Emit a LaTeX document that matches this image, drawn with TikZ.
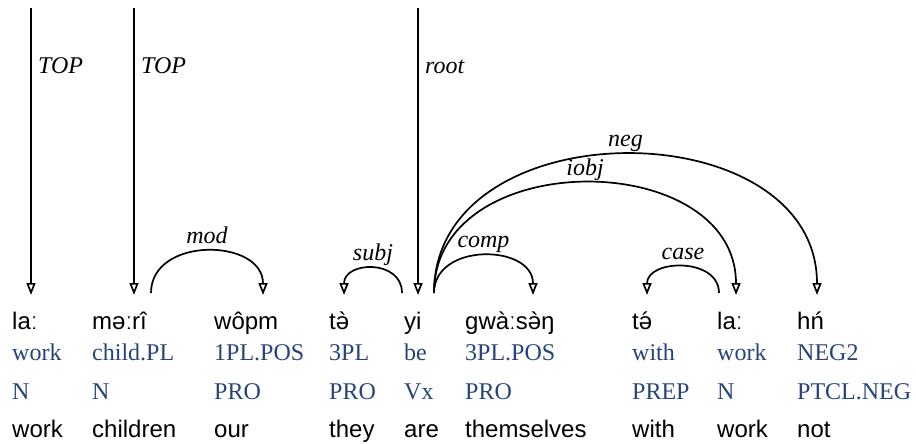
\documentclass[tikz,border=0pt]{standalone}
\usepackage{fontspec}
\setmainfont{Liberation Serif}
\newfontfamily\ipafont{Liberation Sans}
\usetikzlibrary{arrows.meta}
\definecolor{glossblue}{RGB}{38,68,122}
\newcommand\schgrave{\accent"60 ə}
\newcommand\schacute{\accent"B4 ə}
\begin{document}
\begin{tikzpicture}[x=1pt,y=-1pt,
  ipa/.style={font=\ipafont\fontsize{24}{28}\selectfont, anchor=base west, inner sep=0pt},
  gl/.style={font=\fontsize{24}{28}\selectfont, text=glossblue, anchor=base west, inner sep=0pt},
  lab/.style={font=\itshape\fontsize{24}{28}\selectfont, inner sep=0pt},
  arclab/.style={lab, midway, anchor=base, yshift=8pt},
  dep/.style={line width=1.7pt, -{Triangle[open,length=12pt,width=9pt]}}]
\useasboundingbox (0,0) rectangle (916,444);
% row 1: words
\node[ipa] (w1) at (12,329) {laː};
\node[ipa] (w2) at (92,329) {məːrî};
\node[ipa] (w3) at (214,329) {wôpm};
\node[ipa] (w4) at (329,329) {t\schgrave};
\node[ipa] (w5) at (404,329) {yi};
\node[ipa] (w6) at (465,329) {gwàːs\schgrave ŋ};
\node[ipa] (w7) at (632,329) {t\schacute};
\node[ipa] (w8) at (717,329) {laː};
\node[ipa] (w9) at (797,329) {hń};
% row 2: glosses
\node[gl] (g1) at (12,360) {work};
\node[gl] (g2) at (92,360) {child.PL};
\node[gl] (g3) at (214,360) {1PL.POS};
\node[gl] (g4) at (329,360) {3PL};
\node[gl] (g5) at (404,360) {be};
\node[gl] (g6) at (465,360) {3PL.POS};
\node[gl] (g7) at (632,360) {with};
\node[gl] (g8) at (717,360) {work};
\node[gl] (g9) at (797,360) {NEG2};
% row 3: POS
\node[gl] (p1) at (12,399) {N};
\node[gl] (p2) at (92,399) {N};
\node[gl] (p3) at (214,399) {PRO};
\node[gl] (p4) at (329,399) {PRO};
\node[gl] (p5) at (404,399) {Vx};
\node[gl] (p6) at (465,399) {PRO};
\node[gl] (p7) at (632,399) {PREP};
\node[gl] (p8) at (717,399) {N};
\node[gl] (p9) at (797,399) {PTCL.NEG};
% row 4: translation
\node[ipa] (t1) at (12,437) {work};
\node[ipa] (t2) at (92,437) {children};
\node[ipa] (t3) at (214,437) {our};
\node[ipa] (t4) at (329,437) {they};
\node[ipa] (t5) at (404,437) {are};
\node[ipa] (t6) at (465,437) {themselves};
\node[ipa] (t7) at (632,437) {with};
\node[ipa] (t8) at (717,437) {work};
\node[ipa] (t9) at (797,437) {not};
% edge ends
\coordinate (top1) at (31,8);   \coordinate (in1) at (31,295);
\coordinate (top2) at (134,8);  \coordinate (in2) at (134,295);
\coordinate (top5) at (418,8);  \coordinate (in5) at (418,295);
\coordinate (out2) at (151,293); \coordinate (in3) at (263,295);
\coordinate (out5) at (402,293); \coordinate (in4) at (344,295);
\coordinate (out6) at (434,293); \coordinate (in6) at (533,295);
\coordinate (out8) at (719,293); \coordinate (in7) at (647,295);
\coordinate (in8) at (736,295);
\coordinate (in9) at (817,295);
% root edges
\draw[dep] (top1) -- (in1);
\node[lab, anchor=base west] (l1) at (38,74) {TOP};
\draw[dep] (top2) -- (in2);
\node[lab, anchor=base west] (l2) at (141,74) {TOP};
\draw[dep] (top5) -- (in5);
\node[lab, anchor=base west] (l5) at (425,74) {root};
% arcs
\draw[dep] (out2) .. controls +(0,-57) and +(0,-57) .. node[arclab] (lmod) {mod} (in3);
\draw[dep] (out5) .. controls +(0,-34) and +(0,-34) .. node[arclab] (lsubj) {subj} (in4);
\draw[dep] (out6) .. controls +(0,-51) and +(0,-51) .. node[arclab] (lcomp) {comp} (in6);
\draw[dep] (out8) .. controls +(0,-36) and +(0,-36) .. node[arclab] (lcase) {case} (in7);
\draw[dep] (out6) .. controls +(0,-148) and +(0,-148) .. node[arclab] (liobj) {iobj} (in8);
\draw[dep] (out6) .. controls +(0,-186) and +(0,-186) .. node[arclab] (lneg) {neg} (in9);
\end{tikzpicture}
\end{document}
